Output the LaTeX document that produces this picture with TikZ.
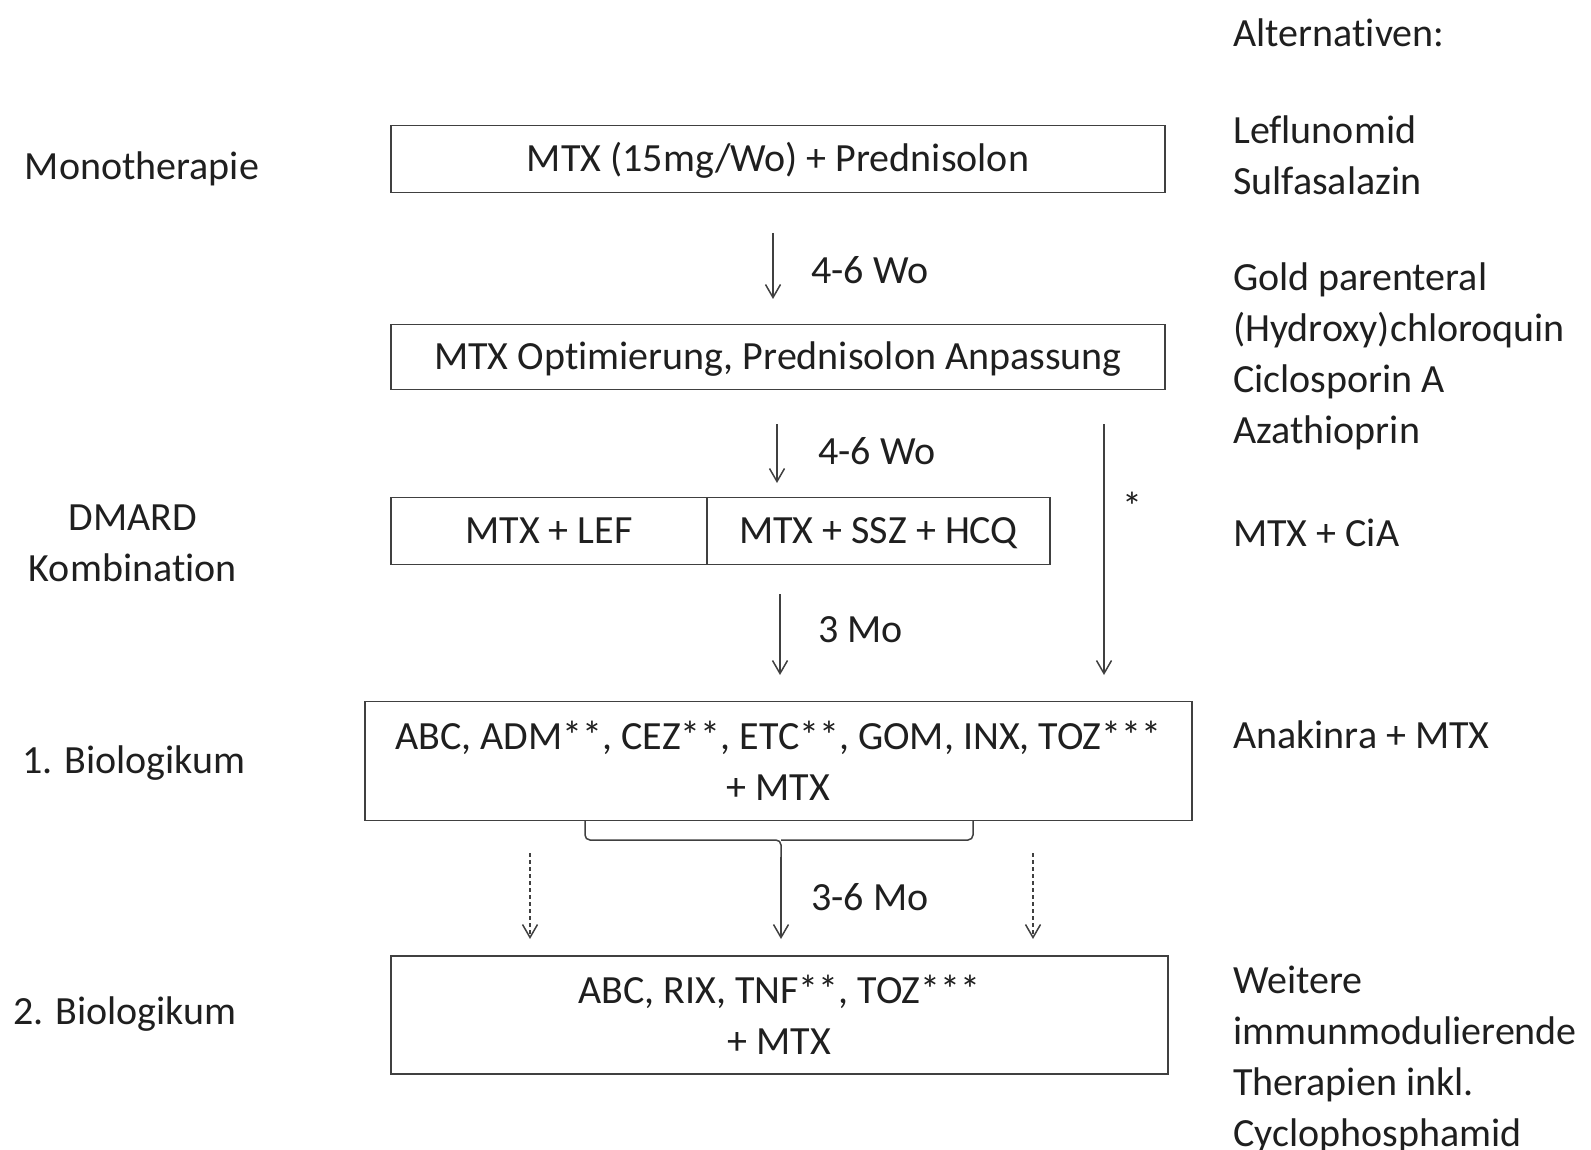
\documentclass[tikz,border=0pt]{standalone}
\usepackage{fontspec}
\setmainfont{Carlito}[Ligatures=NoCommon]
\usetikzlibrary{arrows.meta}
\newcommand{\nolig}{\kern0pt{}}
\begin{document}
\begin{tikzpicture}[x=1pt,y=-1pt,
  txt/.style={inner sep=0pt,font=\fontsize{40}{51}\selectfont,text=black!88},
  lefttxt/.style={txt,anchor=west,align=left},
  boxnode/.style={draw=black!75,line width=1.8pt,inner sep=0pt,align=center,font=\fontsize{40}{51}\selectfont,text=black!88},
  onebox/.style={boxnode,text height=33pt,text depth=8pt},
  arr/.style={draw=black!75,line width=1.5pt,-{Straight Barb[length=13pt,width=15pt,line width=1.5pt]}},
  darr/.style={arr,dash pattern=on 4pt off 3pt},
  brace/.style={draw=black!75,line width=1.5pt,rounded corners=5pt}]
\useasboundingbox (0,0) rectangle (1591,1150);
% left labels
\node[txt] (mono) at (142,169) {Monotherapie};
\node[txt,align=center] (dmard) at (133,543) {DMARD\\Kombina\nolig tion};
\node[txt] (bio1) at (134,763) {1. Biologikum};
\node[txt] (bio2) at (125,1014) {2. Biologikum};
% boxes
\node[onebox,minimum width=774pt,minimum height=67pt] (b1) at (778,159) {MTX (15mg/Wo) + Prednisolon};
\node[onebox,minimum width=774pt,minimum height=65pt] (b2) at (778,357) {MTX Opt\nolig imierung, Prednisolon Anpassung};
\node[onebox,minimum width=316pt,minimum height=67pt] (b3a) at (549,531) {MTX + LEF};
\node[onebox,minimum width=343pt,minimum height=67pt] (b3b) at (878.5,531) {MTX + SSZ + HCQ};
\node[boxnode,minimum width=827pt,minimum height=119pt] (b4) at (778.5,761) {ABC, ADM**, CEZ**, ETC**, GOM, INX, TOZ***\\+ MTX};
\node[boxnode,minimum width=777pt,minimum height=118pt] (b5) at (779.5,1015) {ABC, RIX, TNF**, TOZ***\\+ MTX};
% arrows
\coordinate (a1s) at (773,233); \coordinate (a1e) at (773,299);
\draw[arr] (a1s) -- (a1e);
\node[txt,anchor=west] (l1) at (811,270) {4-6 Wo};
\coordinate (a2s) at (777,424); \coordinate (a2e) at (777,483);
\draw[arr] (a2s) -- (a2e);
\node[txt,anchor=west] (l2) at (818,451) {4-6 Wo};
\coordinate (a3s) at (780,594); \coordinate (a3e) at (780,675);
\draw[arr] (a3s) -- (a3e);
\node[txt,anchor=west] (l3) at (818,630) {3 Mo};
\coordinate (a4s) at (1104,424); \coordinate (a4e) at (1104,675);
\draw[arr] (a4s) -- (a4e);
\node[txt] (star) at (1132,506) {*};
% brace
\coordinate (brl) at (585,821); \coordinate (brr) at (973,821);
\coordinate (brc) at (781,840); \coordinate (brt) at (781,857);
\draw[brace] (brl) |- (brc) -- (brt);
\draw[brace] (brr) |- (brc);
\coordinate (a5e) at (781,939);
\draw[arr] (brt) -- (a5e);
\node[txt,anchor=west] (l5) at (811,897) {3-6 Mo};
\coordinate (d1s) at (530,853); \coordinate (d1e) at (530,939);
\draw[darr] (d1s) -- (d1e);
\coordinate (d2s) at (1033,853); \coordinate (d2e) at (1033,939);
\draw[darr] (d2s) -- (d2e);
% right column
\node[lefttxt] (alt) at (1233,33) {Alterna\nolig tiven:};
\node[lefttxt,anchor=north west] (alt1) at (1233,116) {Lef\nolig lunomid\\Sulfasalazin};
\node[lefttxt,anchor=north west] (alt2) at (1233,263) {Gold parenteral\\(Hydroxy)chloroquin\\Ciclosporin A\\Azathioprin};
\node[lefttxt] (alt3) at (1233,533) {MTX + CiA};
\node[lefttxt] (alt4) at (1233,735) {Anakinra + MTX};
\node[lefttxt,anchor=north west] (alt5) at (1233,966) {Weitere\\immunmodulierende\\Therapien inkl.\\Cyclophosphamid};
\end{tikzpicture}
\end{document}
